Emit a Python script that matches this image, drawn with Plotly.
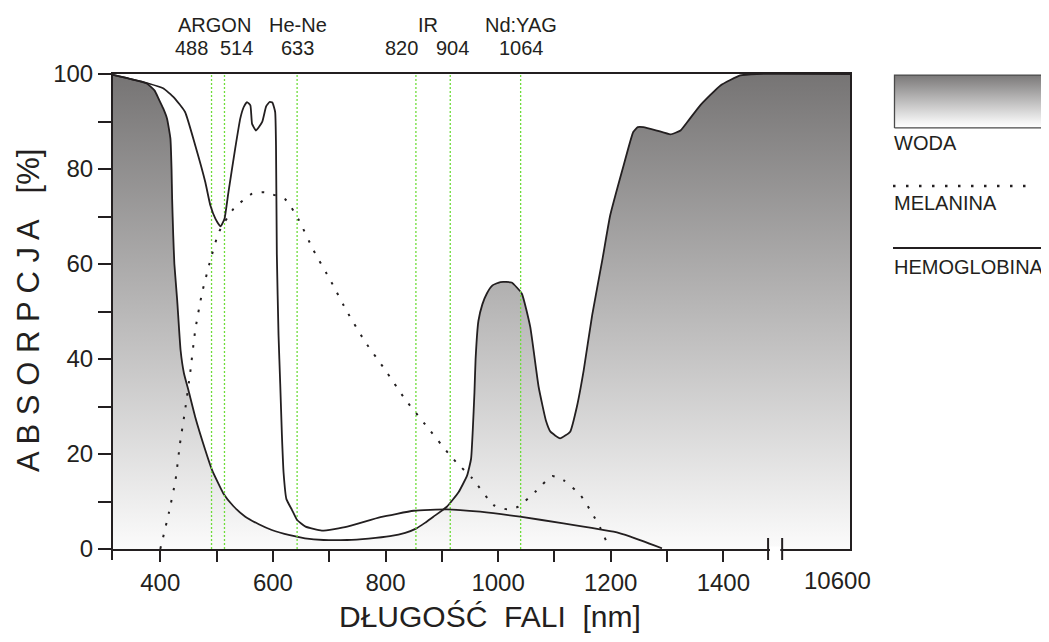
import plotly.graph_objects as go

# ---------------- data ----------------
water_x = [316, 345, 376, 390, 397, 405, 412, 418, 420, 421, 423, 425, 430, 436, 442, 450, 462, 480,
           492, 512, 530, 551, 575, 598, 630, 657, 690, 732, 770, 808, 835, 855, 870, 885, 909, 930,
           945, 952, 955, 958, 960, 965, 972, 980, 990, 1004, 1024, 1042, 1057, 1072, 1085, 1093,
           1110, 1128, 1140, 1152, 1167, 1185, 1199, 1223, 1240, 1248, 1258, 1282, 1306, 1324, 1340,
           1359, 1395, 1430, 1460, 1625]
water_y = [99.8, 99.0, 98.0, 96.5, 94.8, 92.8, 90.6, 86.4, 80.0, 73.8, 66.0, 60.0, 52.4, 41.9, 37.0,
           33.4, 27.8, 20.8, 16.6, 11.7, 9.0, 6.8, 5.2, 4.0, 2.9, 2.25, 1.9, 1.9, 2.2, 2.7, 3.4, 4.35,
           5.5, 6.8, 8.9, 12.0, 15.5, 19.0, 25.0, 33.0, 40.0, 48.0, 51.5, 53.8, 55.5, 56.2, 56.1,
           53.8, 46.8, 34.1, 27.0, 24.7, 23.3, 24.7, 30.0, 37.6, 49.2, 60.8, 70.2, 80.8, 87.8, 88.8,
           88.8, 88.1, 87.3, 88.1, 90.5, 93.4, 97.6, 99.7, 100.0, 100.0]

hb_x = [316, 379, 405, 424, 444, 462, 480, 489, 498, 507, 514, 521, 533, 542, 548, 554, 560, 563,
        570, 581, 588, 594, 599, 604, 605.5, 607, 610, 613, 616, 619, 624, 634, 643, 658, 687, 732,
        791, 850, 909, 968, 1039, 1116, 1205, 1235, 1291]
hb_y = [99.8, 98.0, 97.0, 95.1, 92.0, 85.0, 77.2, 72.3, 69.5, 67.9, 69.5, 75.1, 84.3, 90.6, 93.0,
        94.1, 93.4, 89.5, 88.1, 89.9, 93.2, 94.1, 94.0, 92.0, 85.0, 62.0, 45.0, 34.8, 24.0, 16.0,
        10.5, 8.2, 6.1, 4.7, 3.85, 4.7, 6.7, 8.05, 8.35, 7.85, 6.8, 5.4, 3.64, 2.6, 0.15]

mel_x = [400, 415, 427, 435, 444, 453, 462, 474, 489, 504, 530, 563, 585, 622, 645, 672, 702, 732,
         764, 800, 835, 874, 912, 927, 954, 992, 1016, 1036, 1066, 1096, 1116, 1146, 1167, 1182, 1197]
mel_y = [0.0, 7.5, 14.5, 22.2, 29.2, 37.0, 46.0, 53.8, 60.8, 66.7, 71.6, 74.8, 75.1, 73.6, 69.5,
         62.9, 56.6, 49.9, 43.6, 37.6, 31.5, 25.7, 20.1, 18.1, 14.9, 9.25, 8.35, 8.9, 12.05, 15.35,
         14.5, 11.4, 7.5, 4.35, 0.3]

laser_lines_x = [491, 514, 643, 854, 915, 1040]
laser_names = ["ARGON", "He-Ne", "IR", "Nd:YAG"]
laser_names_x = [497, 644, 876, 1040]
laser_waves = ["488", "514", "633", "820", "904", "1064"]
laser_waves_x = [456, 536, 643, 829, 919, 1042]

x_tick_vals = [400, 500, 600, 700, 800, 900, 1000, 1100, 1200, 1300, 1400]
x_tick_text = ["400", "", "600", "", "800", "", "1000", "", "1200", "", "1400"]
y_tick_vals = [0, 10, 20, 30, 40, 50, 60, 70, 80, 90, 100]
y_tick_text = ["0", "", "20", "", "40", "", "60", "", "80", "", "100"]
far_label, far_label_x = "10600", 1602
axis_break = (1479.5, 1504.5)

legend_names = ["WODA", "MELANINA", "HEMOGLOBINA"]

# ---------------- layout helpers ----------------
# the page body adds an 8px offset, so the figure is 8px smaller than the window
OFF = 8
W, H = 1049 - OFF, 642 - OFF
ML, MR, MT, MB = 113 - OFF, 4, 74 - OFF, 93
PW, PH = W - ML - MR, H - MT - MB
X0, X1 = 316, 1625
DOM = (850 - 113) / PW
INK = "#231f20"
FONT = "Liberation Sans, Arial, Helvetica, sans-serif"
GREEN = "#6edc3a"


def pxx(p):
    """window pixel x -> paper x"""
    return (p - OFF - ML) / PW


def pxy(p):
    """window pixel y -> paper y"""
    return (H - MB - (p - OFF)) / PH


def dx(x):
    return (x - X0) / (X1 - X0) * DOM


fig = go.Figure()

fig.add_trace(go.Scatter(
    x=water_x, y=water_y, mode="lines",
    line=dict(color=INK, width=1.8, shape="spline", smoothing=0.4),
    fill="tozeroy",
    fillgradient=dict(type="vertical", start=0, stop=100,
                      colorscale=[[0, "#fbfbfb"], [1, "#767474"]]),
    hoverinfo="skip", showlegend=False))

for lx in laser_lines_x:
    fig.add_trace(go.Scatter(x=[lx, lx], y=[0, 100], mode="lines",
                             line=dict(color=GREEN, width=1.3, dash="2px,2px"),
                             hoverinfo="skip", showlegend=False))

fig.add_trace(go.Scatter(
    x=mel_x, y=mel_y, mode="lines",
    line=dict(color=INK, width=2, dash="2.5px,9.5px", shape="spline", smoothing=0.5),
    hoverinfo="skip", showlegend=False))

fig.add_trace(go.Scatter(
    x=hb_x, y=hb_y, mode="lines",
    line=dict(color=INK, width=1.8, shape="spline", smoothing=0.4),
    hoverinfo="skip", showlegend=False))

# legend gradient swatch (own axes)
fig.add_trace(go.Scatter(
    x=[0, 1, 1, 0, 0], y=[0, 0, 1, 1, 0], mode="lines", xaxis="x2", yaxis="y2",
    line=dict(color="#4a4a4a", width=1.3), fill="toself",
    fillgradient=dict(type="vertical", start=0, stop=1,
                      colorscale=[[0, "#ffffff"], [0.12, "#f2f2f2"], [1, "#7a7878"]]),
    hoverinfo="skip", showlegend=False))

shapes = []
# axis break
shapes.append(dict(type="rect", xref="paper", yref="paper",
                   x0=dx(axis_break[0]) + 0.002, x1=dx(axis_break[1]) - 0.002,
                   y0=pxy(552.5), y1=pxy(546.5), fillcolor="white", line=dict(width=0), layer="above"))
for b in axis_break:
    shapes.append(dict(type="line", xref="paper", yref="paper", x0=dx(b), x1=dx(b),
                       y0=pxy(538), y1=pxy(560), line=dict(color=INK, width=2), layer="above"))
# left axis extension below zero
shapes.append(dict(type="line", xref="paper", yref="paper", x0=pxx(112), x1=pxx(112),
                   y0=pxy(549), y1=pxy(560), line=dict(color=INK, width=2), layer="above"))
# legend lines
shapes.append(dict(type="line", xref="paper", yref="paper", x0=pxx(893), x1=pxx(1036),
                   y0=pxy(186), y1=pxy(186), line=dict(color=INK, width=2.5, dash="2.5px,10.5px")))
shapes.append(dict(type="line", xref="paper", yref="paper", x0=pxx(893), x1=pxx(1045),
                   y0=pxy(248), y1=pxy(248), line=dict(color=INK, width=2)))

ann = []
for name, xv in zip(laser_names, laser_names_x):
    ann.append(dict(text=name, x=xv, xref="x", y=pxy(25), yref="paper", showarrow=False,
                    xanchor="center", yanchor="middle", font=dict(size=20, color=INK, family=FONT)))
for wv, xv in zip(laser_waves, laser_waves_x):
    ann.append(dict(text=wv, x=xv, xref="x", y=pxy(48), yref="paper", showarrow=False,
                    xanchor="center", yanchor="middle", font=dict(size=20, color=INK, family=FONT)))
ann.append(dict(text=far_label, x=dx(far_label_x), xref="paper", y=pxy(580), yref="paper",
                showarrow=False, xanchor="center", yanchor="middle",
                font=dict(size=24, color=INK, family=FONT)))
ann.append(dict(text="DŁUGOŚĆ\u00a0\u00a0FALI\u00a0\u00a0[nm]", x=pxx(490), xref="paper",
                y=pxy(616), yref="paper", showarrow=False, xanchor="center", yanchor="middle",
                font=dict(size=30, color=INK, family=FONT)))
ann.append(dict(text="A B S O R P C J A\u00a0\u00a0\u00a0[%]", x=pxx(28), xref="paper",
                y=pxy(311), yref="paper", showarrow=False, xanchor="center", yanchor="middle",
                textangle=-90, font=dict(size=31, color=INK, family=FONT)))
for name, yy in zip(legend_names, [143, 203, 267]):
    ann.append(dict(text=name, x=pxx(892), xref="paper", y=pxy(yy), yref="paper",
                    showarrow=False, xanchor="left", yanchor="middle",
                    font=dict(size=20, color=INK, family=FONT)))

axis_common = dict(showline=True, mirror=True, linewidth=2, linecolor=INK, ticks="outside",
                   tickwidth=2, tickcolor=INK, showgrid=False, zeroline=False,
                   tickfont=dict(size=24, color=INK, family=FONT))

fig.update_layout(
    width=W, height=H, margin=dict(l=ML, r=MR, t=MT, b=MB),
    paper_bgcolor="white", plot_bgcolor="white",
    font=dict(family=FONT, color=INK),
    xaxis=dict(domain=[0, DOM], range=[X0, X1], tickvals=x_tick_vals, ticktext=x_tick_text,
               ticklen=11, **axis_common),
    yaxis=dict(range=[0, 100], tickvals=y_tick_vals, ticktext=y_tick_text, ticklen=13,
               **axis_common),
    xaxis2=dict(domain=[pxx(893), 1.0], range=[-0.01, 1.01], visible=False, fixedrange=True,
                anchor="y2"),
    yaxis2=dict(domain=[pxy(129), 1.0], range=[-0.02, 1.02], visible=False, fixedrange=True,
                anchor="x2"),
    shapes=shapes, annotations=ann, showlegend=False, hovermode=False,
)

fig.write_html("out.html")
